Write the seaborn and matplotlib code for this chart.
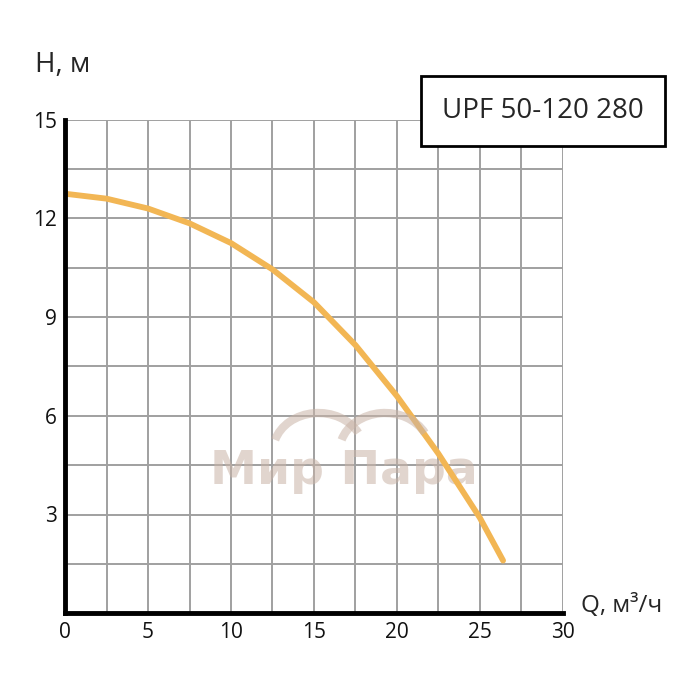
import matplotlib
matplotlib.use("Agg")
import matplotlib.pyplot as plt
import seaborn as sns
import pandas as pd
from matplotlib.ticker import MultipleLocator
from matplotlib.patches import Arc

# Pump curve values
flow = [0, 2.5, 5, 7.5, 10, 12.5, 15, 17.5, 20, 22.5, 25, 26.4]
head = [12.75, 12.6, 12.3, 11.85, 11.25, 10.45, 9.45, 8.15, 6.6, 4.85, 2.9, 1.6]
x_ticks = [0, 5, 10, 15, 20, 25, 30]
y_ticks = [3, 6, 9, 12, 15]
model = "UPF 50-120 280"

df = pd.DataFrame({"Q": flow, "H": head})

sns.set_style("white")
plt.rcParams["font.family"] = ["Open Sans", "DejaVu Sans"]

fig = plt.figure(figsize=(7, 7), dpi=100)
ax = fig.add_axes([0.093, 0.124, 0.711, 0.705])

sns.lineplot(data=df, x="Q", y="H", color="#F2B654", linewidth=4.2,
             solid_capstyle="round", ax=ax, zorder=3)

ax.set_xlim(0, 30)
ax.set_ylim(0, 15)
ax.set_xticks(x_ticks)
ax.set_yticks(y_ticks)
ax.xaxis.set_minor_locator(MultipleLocator(2.5))
ax.yaxis.set_minor_locator(MultipleLocator(1.5))
ax.grid(which="both", color="#a0a0a0", linewidth=1.4)
ax.tick_params(which="both", length=0, labelsize=15, pad=6, colors="#111111")
ax.set_xlabel("")
ax.set_ylabel("")

for side in ["top", "right"]:
    ax.spines[side].set_visible(False)
for side in ["left", "bottom"]:
    ax.spines[side].set_linewidth(3.5)
    ax.spines[side].set_color("black")
    ax.spines[side].set_zorder(4)

# watermark
wm = "#c9b3a6"
ax.text(16.8, 4.3, "Мир Пара", fontsize=34, fontweight="bold",
        color=wm, alpha=0.55, ha="center", va="center",
        family=["DejaVu Sans"], zorder=2)
for cx in [0.455, 0.55]:
    fig.patches.append(Arc((cx, 0.355), 0.13, 0.11, theta1=25, theta2=165,
                           transform=fig.transFigure, color=wm, alpha=0.55,
                           linewidth=6))

fig.text(0.05, 0.907, "H, м", fontsize=20, ha="left", va="center")
fig.text(0.83, 0.135, "Q, м³/ч", fontsize=17.5, ha="left", va="center")

fig.text(0.776, 0.841, model, fontsize=20, ha="center", va="center",
         bbox=dict(boxstyle="square,pad=0.75", facecolor="white",
                   edgecolor="black", linewidth=2))

fig.savefig("out.png", dpi=100)
